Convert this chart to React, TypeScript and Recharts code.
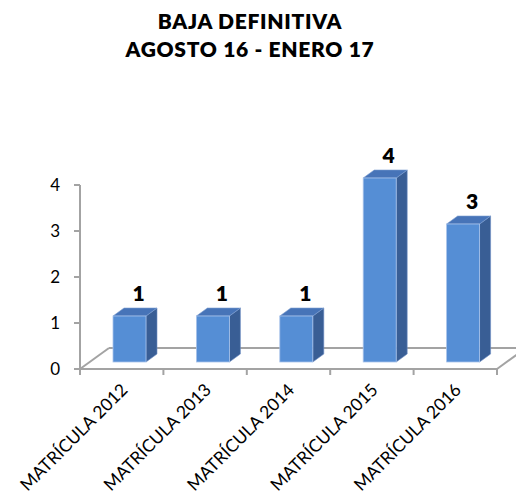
import React from 'react';
import { BarChart, Bar, XAxis, YAxis, LabelList, Customized, usePlotArea } from 'recharts';

const categories = ['MATRÍCULA 2012', 'MATRÍCULA 2013', 'MATRÍCULA 2014', 'MATRÍCULA 2015', 'MATRÍCULA 2016'];
const bajas = [1, 1, 1, 4, 3];
const yTicks = [0, 1, 2, 3, 4];
const titleLines = ['BAJA DEFINITIVA', 'AGOSTO 16 - ENERO 17'];

const data = categories.map((name, i) => ({ name, bajas: bajas[i] }));

const FONT = 'Lato, "Open Sans", sans-serif';
const GRID = '#A3A3A3';
// 3D look: front face shift and depth of the box
const SHIFT_X = 8;
const SHIFT_Y = -7;
const DEPTH_X = 11;
const DEPTH_Y = 8;

function Box3D(props: any) {
  const { x, y, width, height } = props;
  const fx = x + SHIFT_X;
  const fy = y + SHIFT_Y;
  const r = fx + width;
  const b = fy + height;
  return (
    <g>
      <polygon
        points={`${r},${fy} ${r + DEPTH_X},${fy - DEPTH_Y} ${r + DEPTH_X},${b - DEPTH_Y} ${r},${b}`}
        fill="#395E95"
        stroke="#6E8FC4"
        strokeWidth={0.6}
      />
      <polygon
        points={`${fx},${fy} ${fx + DEPTH_X},${fy - DEPTH_Y} ${r + DEPTH_X},${fy - DEPTH_Y} ${r},${fy}`}
        fill="#4774B8"
        stroke="#7C9DD0"
        strokeWidth={0.6}
      />
      <rect x={fx} y={fy} width={width} height={height} fill="#558ED5" stroke="#A9C4EA" strokeWidth={0.8} />
    </g>
  );
}

function Floor() {
  const plot = usePlotArea();
  if (!plot) return null;
  const { x, y, width, height } = plot;
  const front = y + height;
  const back = front - 21;
  const off = 29;
  const n = categories.length;
  const ticks = Array.from({ length: n + 1 }, (_, i) => x + (i * width) / n);
  return (
    <g stroke={GRID} strokeWidth={2} fill="none">
      <line x1={x} y1={front} x2={x + width} y2={front} />
      <line x1={x} y1={front} x2={x + off} y2={back} />
      <line x1={x + off} y1={back} x2={x + width + off} y2={back} />
      <line x1={x + width} y1={front} x2={x + width + off} y2={back} />
      {ticks.map((tx, i) => (
        <line key={i} x1={tx} y1={front} x2={tx} y2={front + 6} />
      ))}
    </g>
  );
}

function XTick(props: any) {
  const { x, y, payload } = props;
  return (
    <text
      transform={`translate(${x + 7},${y + 14}) rotate(-45)`}
      textAnchor="end"
      fontFamily={FONT}
      fontSize={17.5}
      fill="#000"
    >
      {payload.value}
    </text>
  );
}

function YTick(props: any) {
  const { y, payload } = props;
  return (
    <text x={60} y={y + 6} textAnchor="end" fontFamily={FONT} fontSize={17} fill="#000">
      {payload.value}
    </text>
  );
}

function ValueLabel(props: any) {
  const { x, y, width, value } = props;
  return (
    <text
      x={x + width / 2 + 17}
      y={y - 22}
      textAnchor="middle"
      fontFamily={FONT}
      fontWeight={800}
      fontSize={21}
      fill="#000"
    >
      {value}
    </text>
  );
}

export default function App() {
  return (
    <div style={{ position: 'absolute', left: 0, top: 0, width: 516, height: 503, background: '#fff' }}>
      <svg width={516} height={66} style={{ position: 'absolute', left: 0, top: 0 }}>
        {titleLines.map((t, i) => (
          <text
            key={t}
            x={250}
            y={28.5 + i * 28.5}
            textAnchor="middle"
            fontFamily={FONT}
            fontWeight={800}
            fontSize={21}
            letterSpacing={0.7}
            fill="#000"
          >
            {t}
          </text>
        ))}
      </svg>
      <BarChart width={516} height={503} data={data} margin={{ top: 185, right: 19, left: 0, bottom: 0 }}>
        <Customized component={<Floor />} />
        <XAxis
          dataKey="name"
          height={134}
          axisLine={false}
          tickLine={false}
          interval={0}
          tick={<XTick />}
        />
        <YAxis
          width={80}
          domain={[0, 4]}
          ticks={yTicks}
          interval={0}
          axisLine={{ stroke: GRID, strokeWidth: 2 }}
          tickLine={{ stroke: GRID, strokeWidth: 2 }}
          tickSize={6}
          tick={<YTick />}
        />
        <Bar dataKey="bajas" barSize={33} shape={<Box3D />} isAnimationActive={false}>
          <LabelList dataKey="bajas" content={<ValueLabel />} />
        </Bar>
      </BarChart>
    </div>
  );
}
